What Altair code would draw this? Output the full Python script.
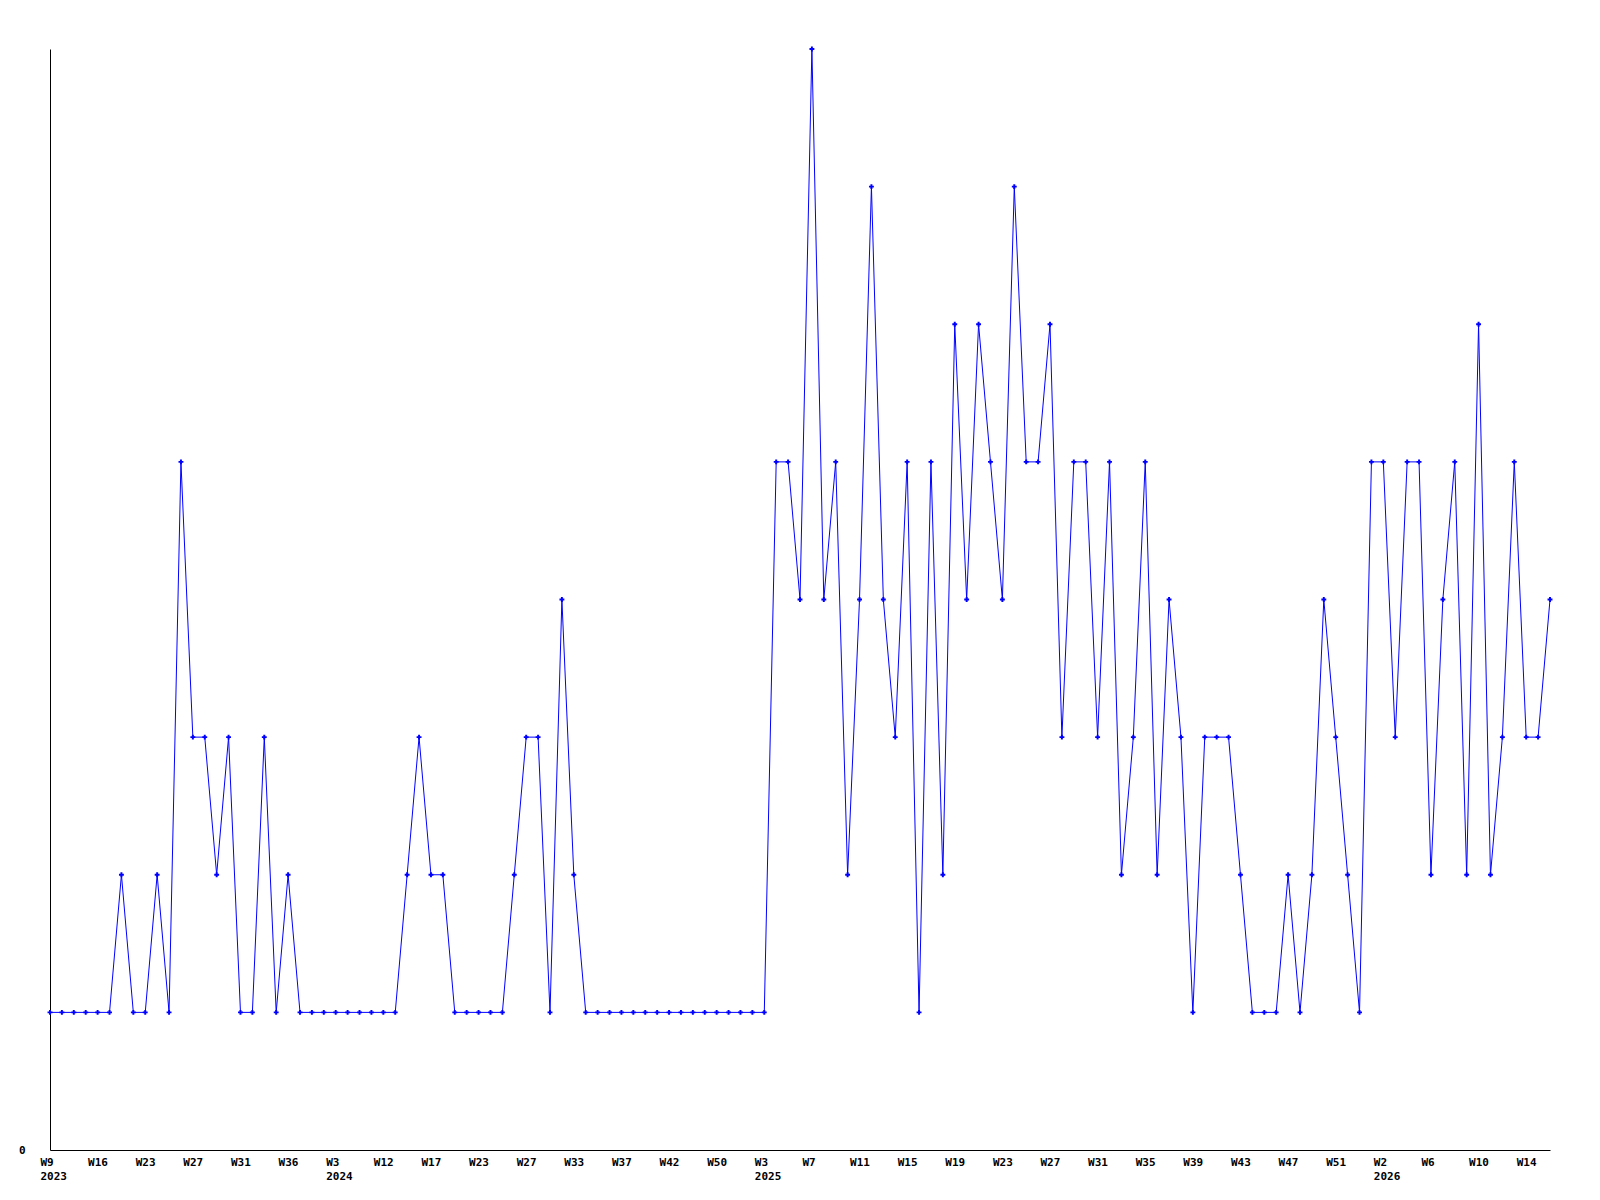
import json
import altair as alt
import pandas as pd

# Weekly counts, one per data point (in order)
values = [
    1, 1, 1, 1, 1, 1, 2, 1, 1, 2, 1, 5, 3, 3, 2, 3, 1, 1, 3, 1, 2, 1, 1, 1, 1,
    1, 1, 1, 1, 1, 2, 3, 2, 2, 1, 1, 1, 1, 1, 2, 3, 3, 1, 4, 2,
    1, 1, 1, 1, 1, 1, 1, 1, 1, 1, 1, 1, 1, 1, 1, 1,
    5, 5, 4, 8, 4, 5, 2, 4, 7, 4, 3, 5, 1, 5, 2, 6, 4, 6, 5, 4, 7, 5, 5, 6, 3,
    5, 5, 3, 5, 2, 3, 5, 2, 4, 3, 1, 3, 3, 3, 2, 1, 1, 1, 2, 1, 2, 4, 3, 2, 1,
    5, 5, 3, 5, 5, 2, 4, 5, 2, 6, 2, 3, 5, 3, 3, 4,
]

# Tick labels, one for every 4th data point
week_labels = [
    "W9", "W16", "W23", "W27", "W31", "W36", "W3", "W12", "W17", "W23", "W27",
    "W33", "W37", "W42", "W50", "W3", "W7", "W11", "W15", "W19", "W23", "W27",
    "W31", "W35", "W39", "W43", "W47", "W51", "W2", "W6", "W10", "W14",
]
year_labels = [
    "2023", "", "", "", "", "", "2024", "", "", "", "",
    "", "", "", "", "2025", "", "", "", "", "", "",
    "", "", "", "", "", "", "2026", "", "", "",
]
tick_step = 4

df = pd.DataFrame({"idx": list(range(len(values))), "count": values})

label_items = [[w, y] if y else w for w, y in zip(week_labels, year_labels)]
label_expr = json.dumps(label_items) + f"[round(datum.value / {tick_step})]"
tick_values = [i * tick_step for i in range(len(week_labels))]

FONT = "DejaVu Sans Mono"
BLUE = "#0000ff"

x_enc = alt.X(
    "idx:Q",
    scale=alt.Scale(domain=[0, len(values) - 1], nice=False, zero=False),
    axis=alt.Axis(
        values=tick_values,
        labelExpr=label_expr,
        title=None,
        grid=False,
        ticks=False,
        domainColor="black",
        domainWidth=1,
        labelFont=FONT,
        labelFontWeight="bold",
        labelFontSize=11,
        labelColor="black",
        labelAlign="left",
        labelBaseline="top",
        labelOffset=-10,
        labelPadding=6,
        labelLineHeight=14,
        labelOverlap=False,
        labelFlush=False,
    ),
)
y_enc = alt.Y(
    "count:Q",
    scale=alt.Scale(domain=[0, 8], nice=False),
    axis=alt.Axis(
        values=[0],
        title=None,
        grid=False,
        ticks=False,
        domainColor="black",
        domainWidth=1,
        labelFont=FONT,
        labelFontWeight="bold",
        labelFontSize=11,
        labelColor="black",
        labelPadding=25,
    ),
)

line = alt.Chart(df).mark_line(color=BLUE, strokeWidth=1).encode(x=x_enc, y=y_enc)
points = alt.Chart(df).mark_point(
    shape="cross", filled=True, color=BLUE, size=24, opacity=1
).encode(x=x_enc, y=y_enc)

chart = (
    alt.layer(line, points)
    .properties(
        width=1500,
        height=1101,
        autosize=alt.AutoSizeParams(type="none"),
        padding={"left": 42, "top": 41, "right": 40, "bottom": 40},
        view=alt.ViewBackground(strokeOpacity=0, strokeWidth=0),
    )
    .configure_view(strokeOpacity=0, strokeWidth=0)
    .configure(background="white")
)

chart.save("out.html", embed_options={"renderer": "svg", "actions": False})
